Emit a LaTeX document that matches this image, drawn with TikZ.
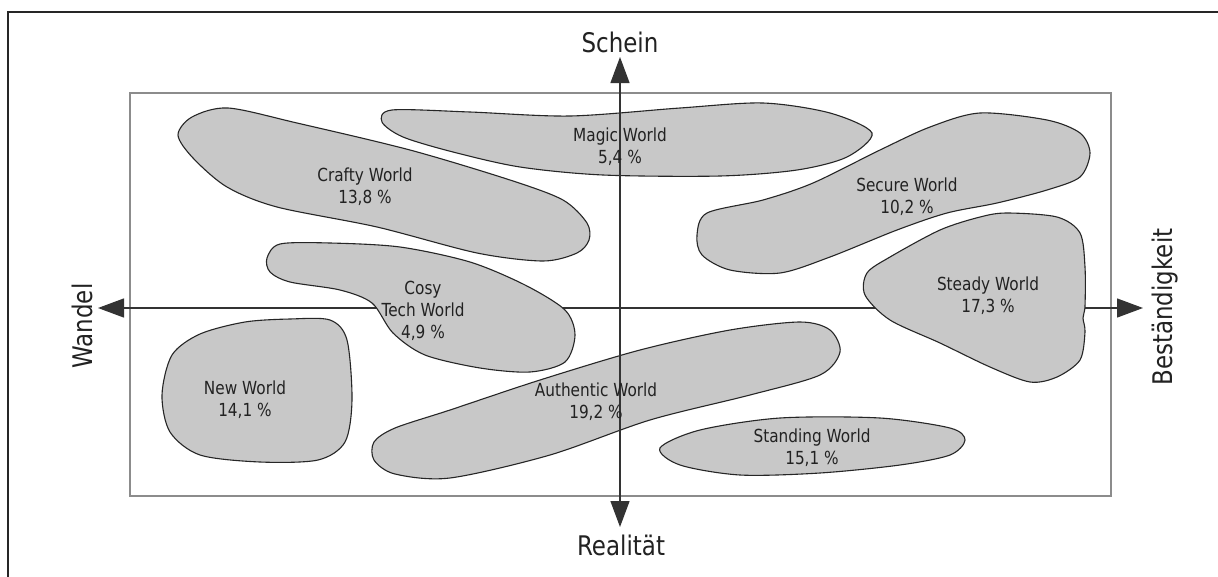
\documentclass[tikz,border=0pt]{standalone}
\usepackage{fontspec}
\setmainfont{DejaVu Sans}[FakeStretch=0.85]
\usetikzlibrary{arrows.meta}
\definecolor{blobfill}{HTML}{C8C8C8}
\definecolor{textgray}{HTML}{222222}
\definecolor{framegray}{HTML}{8C8C8C}
\definecolor{axisgray}{HTML}{333333}
\begin{document}
\begin{tikzpicture}[x=1pt,y=-1pt,
  outerframe/.style={draw=black!85, line width=2.5pt},
  innerframe/.style={draw=framegray, line width=2pt},
  blob/.style={draw=black!85, line width=1.1pt, fill=blobfill},
  axisline/.style={draw=axisgray, line width=1.3pt,
    {Triangle[length=26pt,width=19pt]}-{Triangle[length=26pt,width=19pt]}},
  lbl/.style={align=center, text=textgray, font=\fontsize{18}{22}\selectfont},
  axlbl/.style={text=textgray, font=\fontsize{27}{30}\selectfont, anchor=base, inner sep=0pt}
]
\useasboundingbox (0,0) rectangle (1218,576);
\fill[white] (0,0) rectangle (1218,576);

% page frame (only its top and left sides fall inside the picture)
\draw[outerframe] (8,580) -- (8,12) -- (1222,12);

% inner field
\draw[innerframe] (130,93) rectangle (1111,496);

% horizontal axis, lying below the segments
\coordinate (wl) at (98,308);
\coordinate (wr) at (1143,308);
\draw[axisline] (wl) -- (wr);

% segments
\draw[blob] plot[smooth cycle] coordinates {(178,135) (192,117) (228,108) (297,123) (410,150) (510,180) (563,200) (587,223) (589,240) (577,253) (543,261) (477,253) (377,227) (277,207) (227,187) (193,158)};
\draw[blob] plot[smooth cycle] coordinates {(382,122) (392,110) (470,112) (570,116) (680,108) (763,103) (830,113) (872,133) (847,157) (797,170) (720,176) (603,175) (520,167) (453,152) (403,137)};
\draw[blob] plot[smooth cycle] coordinates {(697,235) (707,213) (763,200) (813,183) (880,150) (930,127) (980,113) (1047,120) (1080,133) (1090,153) (1080,177) (1047,190) (997,203) (947,213) (897,230) (830,257) (780,273) (730,270) (702,255)};
\draw[blob] plot[smooth cycle] coordinates {(1007,213) (1057,217) (1080,233) (1085,267) (1085,306) (1083,318) (1085,332) (1080,360) (1057,377) (1030,382) (990,367) (940,343) (890,320) (865,295) (867,273) (890,257) (940,230) (980,217)};
\draw[blob] plot[smooth cycle] coordinates {(267,258) (280,244) (330,243) (400,247) (470,262) (525,285) (565,310) (575,335) (565,362) (530,372) (480,368) (425,355) (393,333) (372,303) (340,290) (290,282) (270,272)};
\draw[blob] plot[smooth cycle] coordinates {(290,319) (330,320) (347,340) (352,400) (345,442) (318,460) (260,462) (200,455) (170,432) (162,395) (172,355) (200,334) (245,322)};
\draw[blob] plot[smooth cycle] coordinates {(374,442) (395,428) (450,410) (540,380) (640,350) (730,330) (800,322) (830,330) (840,352) (820,375) (750,395) (650,420) (550,455) (450,478) (395,474) (374,460)};
\draw[blob] plot[smooth cycle] coordinates {(660,448) (700,430) (780,418) (880,418) (950,428) (965,440) (950,455) (900,465) (820,473) (740,475) (680,465)};

% vertical axis, drawn over the segments
\coordinate (vt) at (620,57);
\coordinate (vb) at (620,527);
\draw[axisline] (vt) -- (vb);

% segment labels
\node[lbl] (magic) at (620,147) {Magic World\\5,4 \%};
\node[lbl] (crafty) at (365,187) {Crafty World\\13,8 \%};
\node[lbl] (secure) at (907,197) {Secure World\\10,2 \%};
\node[lbl] (steady) at (988,296) {Steady World\\17,3 \%};
\node[lbl] (cosy) at (423,311) {Cosy\\Tech World\\4,9 \%};
\node[lbl] (new) at (245,400) {New World\\14,1 \%};
\node[lbl] (authentic) at (596,402) {Authentic World\\19,2 \%};
\node[lbl] (standing) at (812,448) {Standing World\\15,1 \%};

% axis labels
\node[axlbl] (schein) at (620,52) {Schein};
\node[axlbl] (realitaet) at (621,555) {Realität};
\node[axlbl, rotate=90] (wandel) at (92,326) {Wandel};
\node[axlbl, rotate=90] (bestaendigkeit) at (1172,307) {Beständigkeit};
\end{tikzpicture}
\end{document}
